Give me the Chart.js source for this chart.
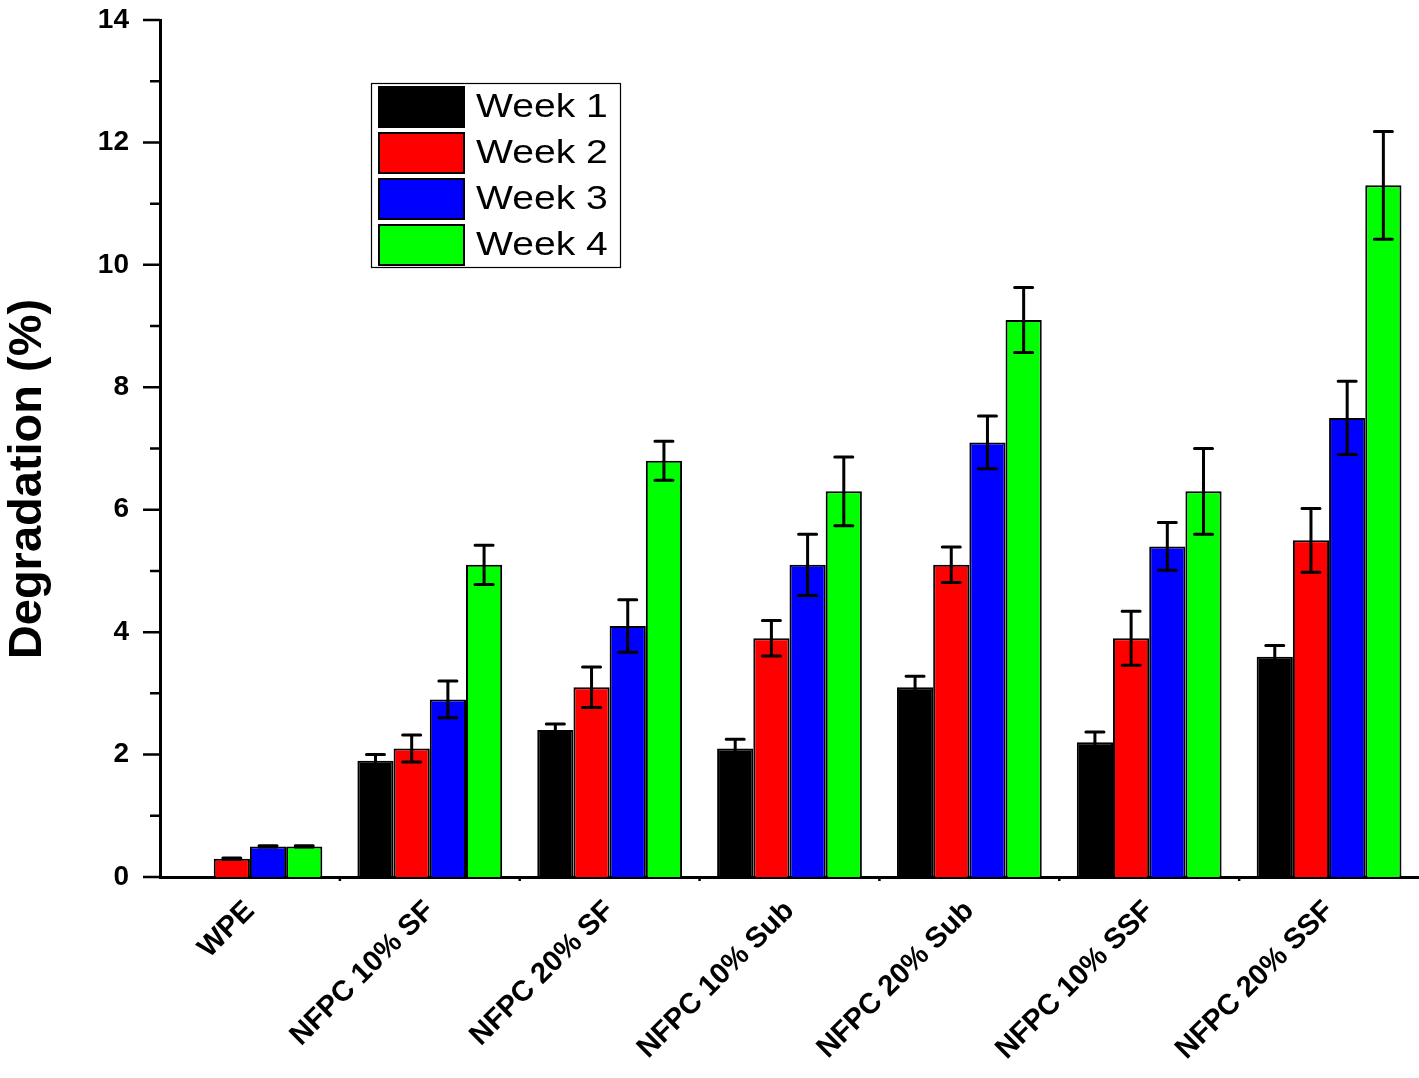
<!DOCTYPE html>
<html>
<head>
<meta charset="utf-8">
<script src="https://cdn.jsdelivr.net/npm/chart.js@4/dist/chart.umd.min.js"></script>
<style>
html,body{margin:0;padding:0;background:#fff;}
#wrap{width:1419px;height:1078px;position:relative;}
</style>
</head>
<body>
<div id="wrap"><canvas id="c" width="1419" height="1078"></canvas></div>
<script>
const categories = ["WPE", "NFPC 10% SF", "NFPC 20% SF", "NFPC 10% Sub", "NFPC 20% Sub", "NFPC 10% SSF", "NFPC 20% SSF"];
const seriesNames = ["Week 1", "Week 2", "Week 3", "Week 4"];
const week1 = [0, 1.9, 2.4, 2.1, 3.1, 2.2, 3.6];
const week2 = [0.3, 2.1, 3.1, 3.9, 5.1, 3.9, 5.5];
const week3 = [0.5, 2.9, 4.1, 5.1, 7.1, 5.4, 7.5];
const week4 = [0.5, 5.1, 6.8, 6.3, 9.1, 6.3, 11.3];
const err1 = [0, 0.1, 0.1, 0.15, 0.18, 0.17, 0.18];
const err2 = [0.01, 0.22, 0.33, 0.29, 0.29, 0.44, 0.52];
const err3 = [0.01, 0.3, 0.43, 0.5, 0.43, 0.39, 0.6];
const err4 = [0.01, 0.32, 0.32, 0.56, 0.53, 0.7, 0.88];
const yTicks = [0, 2, 4, 6, 8, 10, 12, 14];
const yTitle = "Degradation (%)";
const seriesColors = ["#000000", "#ff0000", "#0000ff", "#00ff00"];

const values = [week1, week2, week3, week4];
const errors = [err1, err2, err3, err4];

const datasets = values.map((v, i) => ({
  label: seriesNames[i],
  data: v,
  errors: errors[i],
  backgroundColor: seriesColors[i],
  borderColor: "#000000",
  borderWidth: 2,
  categoryPercentage: 0.805,
  barPercentage: 1.0
}));

const FONT = "'Liberation Sans', Arial, sans-serif";

const errorBarPlugin = {
  id: "errorBars",
  afterDatasetsDraw(chart) {
    const ctx = chart.ctx;
    const ys = chart.scales.y;
    ctx.save();
    ctx.strokeStyle = "#000";
    ctx.lineCap = "round";
    chart.data.datasets.forEach((ds, di) => {
      const meta = chart.getDatasetMeta(di);
      meta.data.forEach((bar, i) => {
        const v = ds.data[i], e = ds.errors[i];
        if (!v) return;
        const yTop = ys.getPixelForValue(v + e);
        const yBot = ys.getPixelForValue(v - e);
        const x = bar.x;
        ctx.lineWidth = 3;
        ctx.beginPath();
        ctx.moveTo(x, yTop); ctx.lineTo(x, yBot);
        ctx.moveTo(x - 9, yTop); ctx.lineTo(x + 9, yTop);
        ctx.moveTo(x - 9, yBot); ctx.lineTo(x + 9, yBot);
        ctx.stroke();
      });
    });
    ctx.restore();
  }
};

const axisPlugin = {
  id: "axisTicks",
  afterDraw(chart) {
    const ctx = chart.ctx;
    const ys = chart.scales.y, xs = chart.scales.x;
    const left = chart.chartArea.left, bottom = chart.chartArea.bottom;
    ctx.save();
    ctx.strokeStyle = "#000";
    ctx.lineWidth = 2.5;
    ctx.beginPath();
    for (let v = ys.min; v <= ys.max; v += 1) {
      const y = ys.getPixelForValue(v);
      const len = (v % 2 === 0) ? 17 : 10;
      ctx.moveTo(left - len, y); ctx.lineTo(left, y);
    }
    for (let i = 1; i < categories.length; i++) {
      const x = (xs.getPixelForValue(i - 1) + xs.getPixelForValue(i)) / 2;
      ctx.moveTo(x, bottom); ctx.lineTo(x, bottom + 4);
    }
    ctx.stroke();

    // y axis title
    ctx.save();
    ctx.translate(28, 479);
    ctx.rotate(-Math.PI / 2);
    ctx.font = "bold 47px " + FONT;
    ctx.fillStyle = "#000";
    ctx.textAlign = "center";
    ctx.textBaseline = "middle";
    ctx.fillText(yTitle, 0, 0);
    ctx.restore();

    // legend
    const lx = 371, ly = 83, lw = 249, lh = 184;
    ctx.lineWidth = 1.2;
    ctx.strokeStyle = "#000";
    ctx.fillStyle = "#fff";
    ctx.fillRect(lx, ly, lw, lh);
    ctx.strokeRect(lx + 0.5, ly + 0.5, lw, lh);
    chart.data.datasets.forEach((ds, i) => {
      const sy = 87 + i * 46;
      ctx.fillStyle = ds.backgroundColor;
      ctx.fillRect(379, sy, 85, 40);
      ctx.lineWidth = 2;
      ctx.strokeStyle = "#000";
      ctx.strokeRect(379, sy, 85, 40);
      ctx.save();
      ctx.translate(476, sy + 21);
      ctx.scale(1.15, 1);
      ctx.font = "34px " + FONT;
      ctx.textBaseline = "middle";
      ctx.textAlign = "left";
      ctx.fillStyle = "#000";
      ctx.fillText(ds.label, 0, 0);
      ctx.restore();
    });
    ctx.restore();
  }
};

new Chart(document.getElementById("c"), {
  type: "bar",
  data: { labels: categories, datasets: datasets },
  options: {
    responsive: false,
    animation: false,
    devicePixelRatio: 1,
    layout: { padding: { top: 20, right: 0, bottom: 0, left: 0 } },
    plugins: { legend: { display: false }, tooltip: { enabled: false } },
    scales: {
      x: {
        offset: true,
        grid: { display: false, drawTicks: false },
        border: { display: true, color: "#000", width: 3 },
        ticks: {
          color: "#000",
          font: { family: FONT, size: 29, weight: "bold" },
          minRotation: 45, maxRotation: 45,
          padding: 17,
          autoSkip: false
        },
        afterFit(scale) { scale.height = 201; scale.paddingTop = 0; }
      },
      y: {
        min: 0, max: 14,
        afterBuildTicks(scale) { scale.ticks = yTicks.map(v => ({ value: v })); },
        grid: { display: false, drawTicks: false },
        border: { display: true, color: "#000", width: 3 },
        ticks: {
          color: "#000",
          font: { family: FONT, size: 28, weight: "bold" },
          padding: 31
        },
        afterFit(scale) { scale.width = 160; scale.paddingTop = 0; scale.paddingBottom = 0; }
      }
    }
  },
  plugins: [errorBarPlugin, axisPlugin]
});
</script>
</body>
</html>
